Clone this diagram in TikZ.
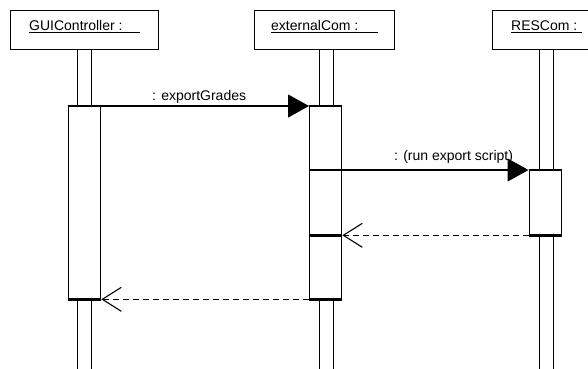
\documentclass[tikz,border=0pt]{standalone}
\usepackage{fontspec}
\setmainfont{Liberation Sans}
\usetikzlibrary{arrows.meta}
\begin{document}
\begin{tikzpicture}[x=1pt,y=-1pt,
  headbox/.style={draw=black,line width=1.2pt,fill=white,anchor=north west,inner sep=0pt,minimum height=39pt},
  lifebar/.style={draw=black,line width=1.3pt,fill=white,anchor=north west,inner sep=0pt,minimum width=14pt,minimum height=330pt},
  actbox/.style={draw=black,line width=1.3pt,fill=white,anchor=north west,inner sep=0pt,minimum width=32pt},
  thickedge/.style={line width=2.4pt},
  lbl/.style={anchor=base west,inner sep=0pt,font=\fontsize{14}{16}\selectfont},
  uline/.style={line width=0.9pt},
  msg/.style={line width=1.1pt,-{Triangle[length=21pt,width=23pt]}},
  reply/.style={line width=1.1pt,dash pattern=on 6pt off 4pt,-{Straight Barb[length=19pt,width=24pt,line width=1.1pt]}}
]
\path[use as bounding box] (0,0) rectangle (588,368);
\clip (0,0) rectangle (588,368);
% lifelines
\node[lifebar] (guilife) at (77,49) {};
\node[lifebar] (extlife) at (319,49) {};
\node[lifebar] (reslife) at (538.5,49) {};
% header boxes
\node[headbox,minimum width=148pt] (guihead) at (10,10) {};
\node[headbox,minimum width=140pt] (exthead) at (254,10) {};
\node[headbox,minimum width=120pt] (reshead) at (492,10) {};
% header labels
\node[lbl] (guitext) at (29,30) {GUIController :};
\node[lbl] (exttext) at (271,30) {externalCom :};
\node[lbl] (restext) at (511,30) {RESCom :};
\coordinate (guiul) at (140,32.5);
\coordinate (extul) at (378,32.5);
\coordinate (resul) at (582,32.5);
\draw[uline] (guitext.base west |- guiul) -- (guiul);
\draw[uline] (exttext.base west |- extul) -- (extul);
\draw[uline] (restext.base west |- resul) -- (resul);
% activations
\node[actbox,minimum height=192pt] (guiact) at (68,106) {};
\node[actbox,minimum height=192pt] (extact) at (309,106) {};
\node[actbox,minimum height=64pt] (resact) at (528.5,170) {};
\foreach \a in {guiact,extact,resact}{
  \draw[thickedge] (\a.north west) -- (\a.north east);
  \draw[thickedge] (\a.south west) -- (\a.south east);
}
\draw[thickedge] (resact.north west -| extact.west) -- (resact.north west -| extact.east);
\draw[thickedge] (resact.south west -| extact.west) -- (resact.south west -| extact.east);
% messages
\draw[msg] (guiact.north east) -- (extact.north west);
\node[lbl] (m1) at (152,100) {: exportGrades};
\draw[msg] (resact.north west -| extact.east) -- (resact.north west);
\node[lbl] (m2) at (394,160) {: (run export script)};
\draw[reply] (resact.south west) -- (resact.south west -| extact.east);
\draw[reply] (extact.south west) -- (guiact.south east);
\end{tikzpicture}
\end{document}
